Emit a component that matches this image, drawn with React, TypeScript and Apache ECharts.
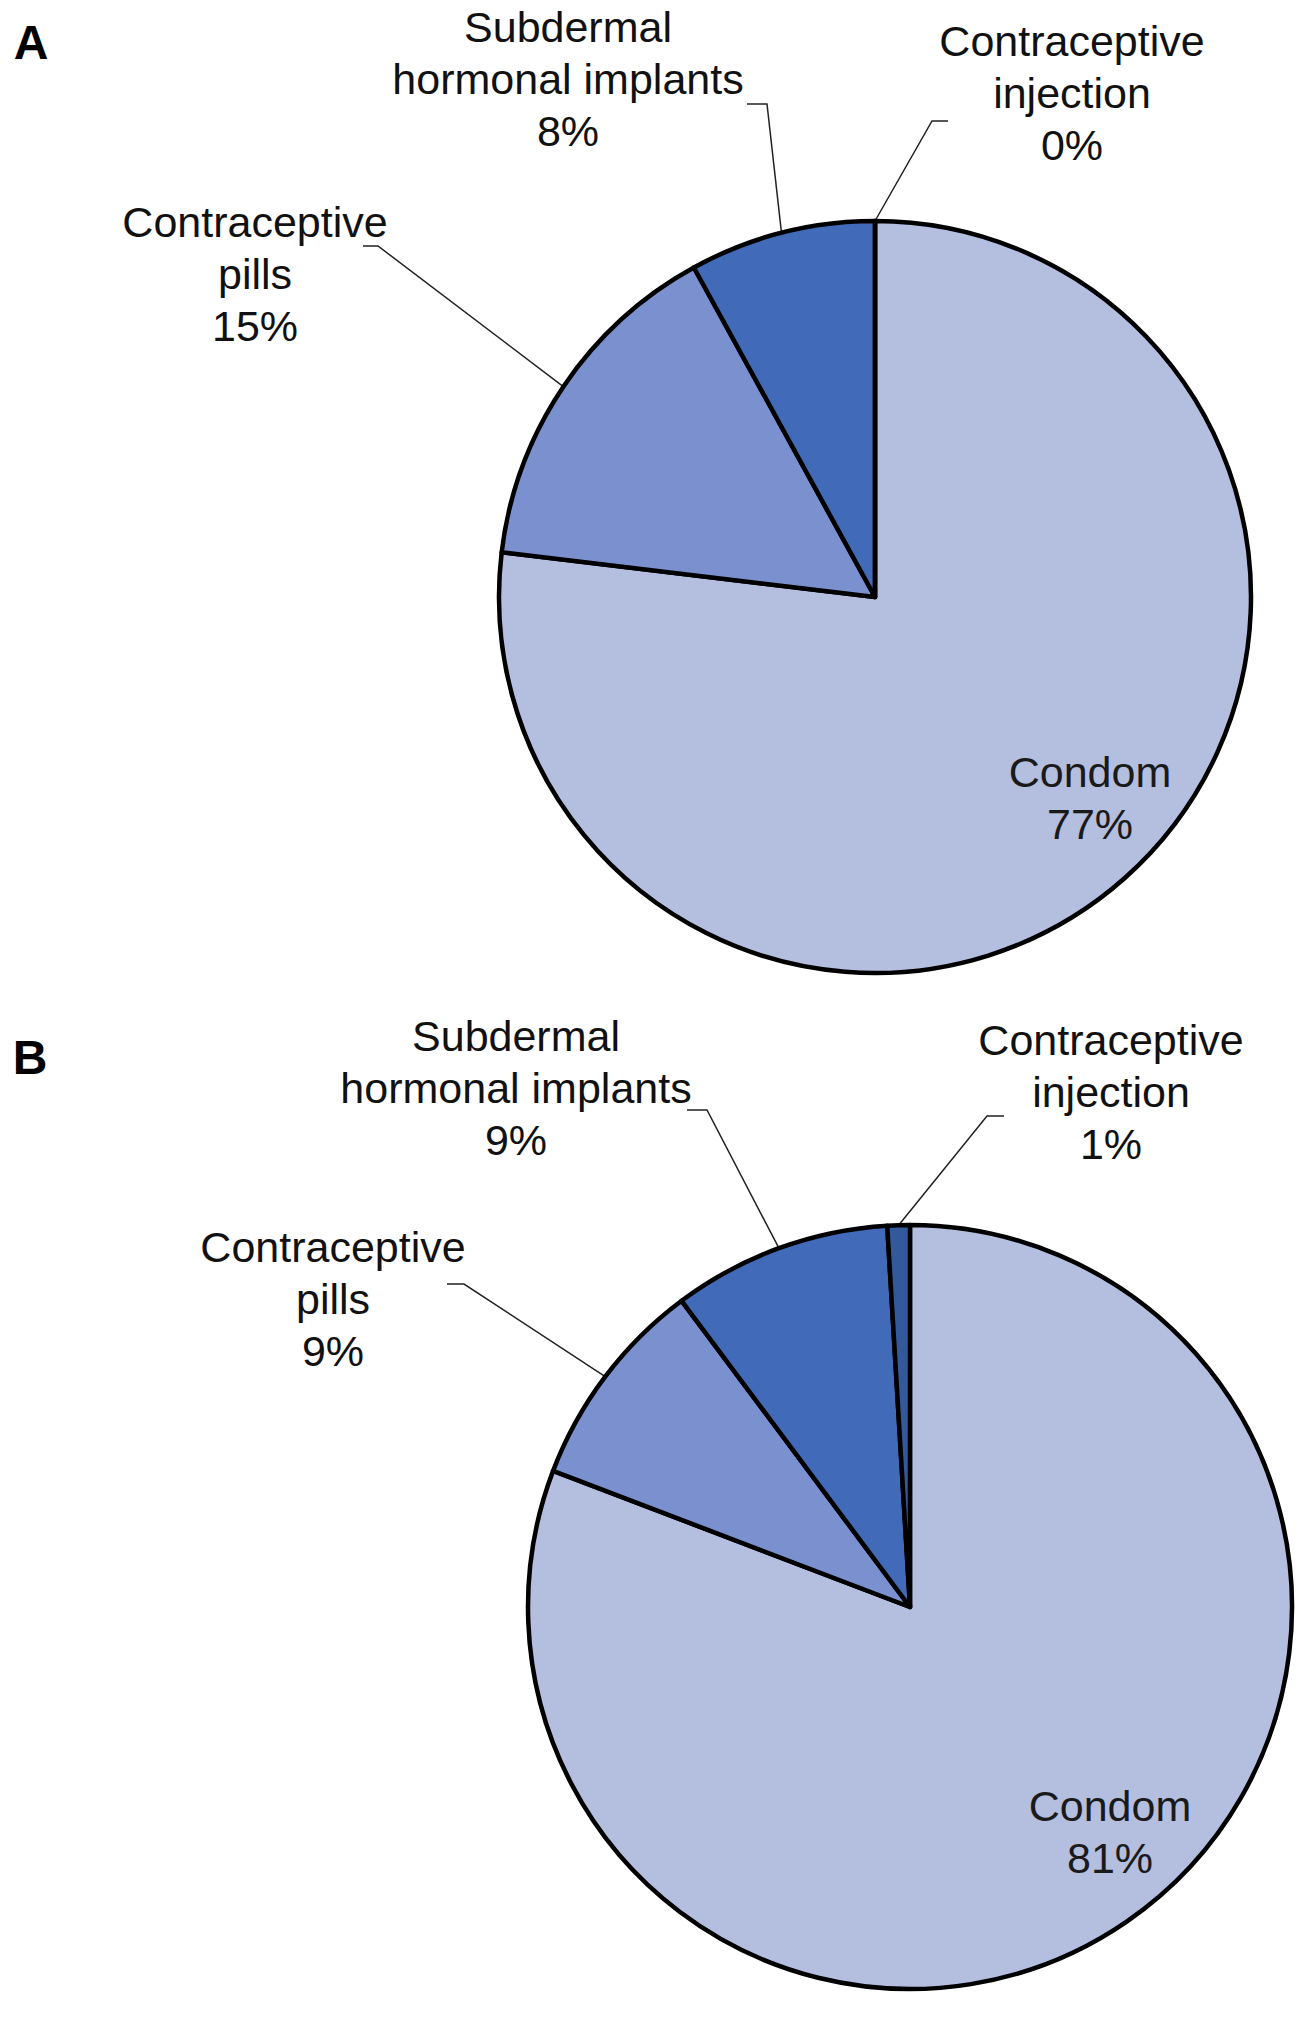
import React, { useEffect, useRef } from 'react';
import * as echarts from 'echarts';

// ---------- data ----------
const categories = [
  'Condom',
  'Contraceptive\npills',
  'Subdermal\nhormonal implants',
  'Contraceptive\ninjection',
];
const valuesA = [76.9, 15.1, 8.0, 0];
const valuesB = [80.8, 9.0, 9.25, 0.95];
const panelLetters = ['A', 'B'];

// ---------- style / layout ----------
const sliceColors = ['#B4BEDF', '#7B91CF', '#416BB8', '#33589B'];
const FONT = '"Liberation Sans", Arial, Helvetica, sans-serif';
const W = 1315;
const H = 2017;

// label centre offsets relative to pie centre, and leader [elbowDx, dy, endDx] relative to label centre
const pies = [
  {
    values: valuesA,
    center: [875, 597],
    radius: 376,
    letterPos: [31, 42],
    labelOffsets: [
      [215, 201],
      [-620, -323],
      [-307, -518],
      [197, -504],
    ],
    leaders: [null, [123, -28, 108], [199, 25, 179], [-140, 28, -124]],
  },
  {
    values: valuesB,
    center: [910, 1607],
    radius: 382,
    letterPos: [30, 1057],
    labelOffsets: [
      [200, 225],
      [-577, -308],
      [-394, -519],
      [201, -515],
    ],
    leaders: [null, [131, -15, 114], [191, 22, 171], [-124, 24, -107]],
  },
];

export default function App() {
  const ref = useRef<HTMLDivElement>(null);

  useEffect(() => {
    document.body.style.margin = '0';
    if (!ref.current) return;
    const chart = echarts.init(ref.current, undefined, { renderer: 'svg' });

    const series = pies.map((cfg) => ({
      type: 'pie',
      center: cfg.center,
      radius: cfg.radius,
      startAngle: 90,
      clockwise: true,
      avoidLabelOverlap: false,
      silent: true,
      emphasis: { disabled: true },
      itemStyle: { borderColor: '#000', borderWidth: 4.5 },
      label: {
        show: true,
        position: 'outside',
        formatter: (p: any) => `${p.name}\n${Math.round(p.value)}%`,
        color: '#111',
        fontFamily: FONT,
        fontSize: 43,
        lineHeight: 52,
      },
      labelLine: {
        show: true,
        length: 20,
        length2: 10,
        lineStyle: { color: '#222', width: 1.5 },
      },
      labelLayout: (p: any) => {
        const [cx, cy] = cfg.center;
        const off = cfg.labelOffsets[p.dataIndex];
        const x = cx + off[0];
        const y = cy + off[1];
        const res: any = { x, y, align: 'center', verticalAlign: 'middle' };
        const lead = cfg.leaders[p.dataIndex];
        if (lead && p.labelLinePoints && p.labelLinePoints.length) {
          res.labelLinePoints = [
            p.labelLinePoints[0],
            [x + lead[0], y + lead[1]],
            [x + lead[2], y + lead[1]],
          ];
        }
        return res;
      },
      data: categories.map((name, i) => ({
        name,
        value: cfg.values[i],
        itemStyle: { color: sliceColors[i] },
        ...(i === 0
          ? { label: { position: 'inside', color: '#1a1a1a' }, labelLine: { show: false } }
          : {}),
      })),
    }));

    chart.setOption({
      animation: false,
      backgroundColor: '#fff',
      graphic: pies.map((cfg, i) => ({
        type: 'text',
        x: cfg.letterPos[0],
        y: cfg.letterPos[1],
        style: {
          text: panelLetters[i],
          fontFamily: FONT,
          fontWeight: 'bold',
          fontSize: 48,
          fill: '#000',
          align: 'center',
          verticalAlign: 'middle',
        },
      })),
      series,
    } as any);

    return () => chart.dispose();
  }, []);

  return <div ref={ref} style={{ width: W, height: H }} />;
}
